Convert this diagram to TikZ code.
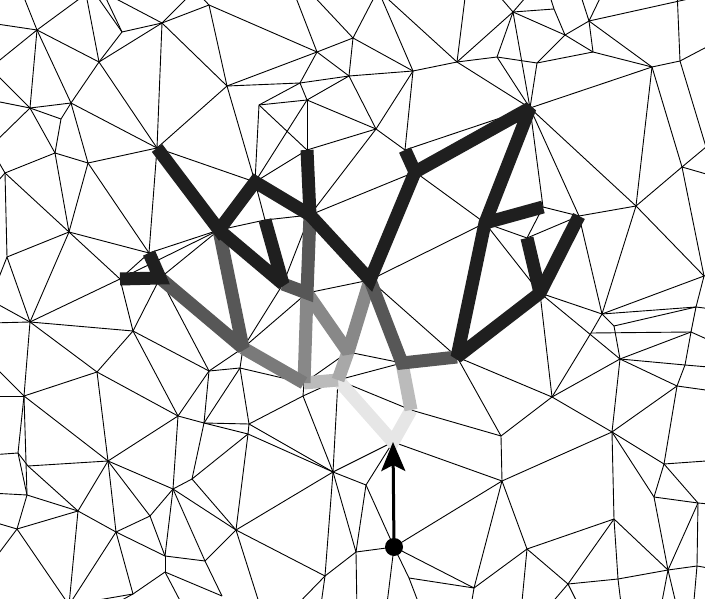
\documentclass[tikz,border=0pt]{standalone}
\usetikzlibrary{arrows.meta}
\definecolor{tk}{HTML}{1F1F1F}
\definecolor{ga}{HTML}{575757}
\definecolor{gb}{HTML}{7A7A7A}
\definecolor{gc}{HTML}{888888}
\definecolor{gd}{HTML}{A8A8A8}
\definecolor{ge}{HTML}{BBBBBB}
\definecolor{gf}{HTML}{E6E6E6}
\begin{document}
\begin{tikzpicture}[x=1pt,y=-1pt,
  mesh/.style={line width=0.9pt, black},
  tree/.style={line width=13pt, line join=miter, miter limit=2, line cap=butt}]
\useasboundingbox (0,0) rectangle (705,599);
\clip (0,0) rectangle (705,599);
\foreach \n/\px/\py in {
 a1/37/30, a2/122/32, a3/162/23, a4/99/62, a5/227/86, a6/30/108, a7/71/103, a8/61/119,
 a9/55/153, a10/88/163, a11/157/148, a12/5/173, a13/209/5,
 b1/317/52, b2/353/38, b3/349/76, b4/413/71, b5/457/62, b6/300/83, b7/307/100, b8/259/105,
 b9/376/129, b10/405/150, b11/307/150, b12/255/182, b13/415/172,
 c1/513/12, c2/554/9, c3/589/21, c4/565/35, c5/497/57, c6/537/63, c7/593/52, c8/652/67,
 c9/680/61, c10/530/108, c11/682/167, c12/706/147,
 d1/69/232, d2/7/257, d3/149/253, d4/120/279, d5/160/278, d6/219/230, d7/30/322,
 d8/133/331, d9/97/372, d10/209/371, d11/24/396,
 e1/310/215, e2/370/280, e3/283/284, e4/265/220, e5/307/293, e6/243/348, e7/304/383,
 e8/348/352, e9/338/380, e10/402/363, e11/411/410, e12/240/368, e13/303/396,
 k1/485/223, k2/543/207, k3/527/238, k4/579/216, j1/457/357,
 f1/636/206, f2/540/293, f3/602/314, f4/614/326, f5/591/333, f6/620/359, f7/704/276,
 f8/696/307, f9/691/332, f10/685/365, f11/677/386, f12/552/397,
 g2/18/453, g3/28/466, g4/27/495, g5/17/529, g6/108/461, g7/78/511, g8/116/532,
 g9/150/516, g10/173/489, g11/178/416, g12/204/423, g13/192/479, g14/236/530,
 g15/165/556, g16/165/572, g17/205/561, g18/133/594, g19/222/596, g20/69/605,
 h1/249/424, h2/248/434, h3/333/472, h4/366/485, h5/356/552, h6/325/576, h8/409/578,
 R/393/442, D/394/547,
 i1/501/436, i2/502/481, i4/612/432, i5/664/464, i6/654/497, i7/698/503, i8/614/519,
 i9/527/549, i10/668/570, i11/697/566, i12/568/584, i14/618/579, i15/474/588,
 tA/21/-10, tB/86/-6, tD/94/-8, tE/103/-8, tG/195/-10, tH/293/-10, tI/308/-10,
 tJ/378/-10, tM/466/-10, tN/494/-10, tO/532/-10, tP/548/-10, tQ/579/-10, tR/604/-10,
 tS/720/-8, tT/677/-10,
 lA/-10/23, lB/-10/68, lD/-10/100, lE/-10/147, lF/-10/190, lG/-10/300, lH/-10/323,
 lI/-10/362, lJ/-10/396, lK/-10/455, lM/-10/493, lN/-10/521, lP/-10/565,
 rA/720/40, rF/720/178, rG/720/270, rH/720/310, rI/720/345, rJ/720/368, rK/720/392,
 rB/720/460, rC/720/505, rD/720/570,
 bA/320/612, bB/357/612, bC/386/612, bD/422/612, bE/521/612, bF/544/612, bG/582/612,
 bH/622/612, bI/660/612, bJ/678/612, bK/693/612, bL/100/612, bM/186/612, bN/262/612,
 bO/470/612, bP/290/612}
 \coordinate (\n) at (\px,\py);
\foreach \u/\v in {
 a1/tA, a1/tB, a1/lA, a1/lB, a1/a4, a1/a6, a1/a7,
 a4/tB, a4/a2, a4/a3, a4/a7, a4/a11,
 a2/tD, a2/tE, a2/a3,
 a3/tE, a3/tG, a3/a13, a3/a11, a3/a5,
 a13/tG, a13/a5, a13/b1,
 a5/a11, a5/b12, a5/b1, a5/b6,
 a6/lB, a6/lD, a6/lE, a6/a7, a6/a8, a6/a9,
 a7/a8, a7/a10, a7/a11, a8/a9,
 a9/a10, a9/a12, a9/d1,
 a10/a11, a10/d1, a10/d3,
 a11/d3, a11/b12,
 a12/d1, a12/d2, a12/lE, a12/lF,
 b1/tH, b1/b2, b1/b3, b1/b6,
 b2/tI, b2/tJ, b2/b3, b2/b4,
 b3/b6, b3/b4, b3/b7, b3/b9,
 b4/tJ, b4/b5, b4/b9, b4/b10,
 b5/tJ, b5/tM, b5/c1, b5/c5, b5/c10,
 b6/b7, b6/b8, b7/b8, b7/b9, b7/b11, b7/b12,
 b8/b11, b8/b12, b9/b11, b9/b10, b9/e1,
 b10/c10, b11/b12, b12/e4, b13/e1, b13/k1,
 c1/tN, c1/tO, c1/c2, c1/c4, c1/c5, c1/c10,
 c2/tP, c2/c4,
 c3/tQ, c3/tR, c3/tS, c3/c4, c3/c7, c3/c8,
 c4/c6, c4/c7, c5/c6, c5/c10, c6/c7, c6/c10, c7/c8,
 c8/c9, c8/c10, c8/f1, c8/c11,
 c9/tT, c9/rA, c9/c12,
 c10/f1, c10/k2, c10/k4,
 c11/c12, c11/f1, c11/f7, c11/rF,
 d1/d2, d1/d3, d1/d4, d1/d7,
 d2/d7, d2/lG,
 d3/d6, d3/d4, d4/d6, d4/d7, d4/d8,
 d5/d8, d5/d10, d5/d6, d6/e4,
 d7/d8, d7/d9, d7/d11, d7/lG, d7/lH,
 d8/d9, d8/d10, d8/g11,
 d9/g6, d9/d11, d9/g11,
 d10/e6, d10/e12, d10/g11, d10/g12,
 d11/g6, d11/g2, d11/g4, d11/lI, d11/lJ,
 e1/e4, e1/e3, e3/e6, e5/e2, e5/e6, e6/e12,
 e7/e12, e7/e13, e7/e8, e8/e10,
 e9/h3, e9/e11, e9/e10, e9/e13,
 e13/h1, e13/h3, e2/k1, e2/j1, e11/i1,
 j1/f12, j1/i1, k1/f2, k1/k3, k2/k4, k2/k3, k3/k4,
 k4/f1, k4/f3, f1/f7, f1/f3,
 f2/f3, f2/f6, f2/f12,
 f3/f4, f3/f5, f3/f7, f3/f8,
 f4/f6, f4/f8, f5/f12, f5/f9,
 f6/f9, f6/f10, f6/f11, f6/i4, f6/f12,
 f7/f8, f7/rG, f8/f9, f8/rH, f9/f10, f9/rI, f10/f11, f10/rJ,
 f11/i4, f11/i5, f11/rK, f12/i1, f12/i4,
 g2/g3, g2/g4, g2/lK, g3/g6, g3/g7,
 g4/g7, g4/g5, g4/lM, g5/g7, g5/g20, g5/lN, g5/lP,
 g6/g7, g6/g8, g6/g9, g6/g10, g6/g11,
 g7/g8, g7/g20, g8/g9, g8/g15, g8/g18, g8/g20,
 g9/g10, g9/g15,
 g10/g11, g10/g13, g10/g14, g10/g15, g10/g17,
 g11/g12, g12/h1, g12/h2, g12/g13, g12/e12,
 g13/g14, g13/h2,
 g14/h2, g14/h3, g14/h6, g14/g17, g14/bN,
 g15/g16, g15/g17, g16/g18, g16/g19, g16/bM, g17/g19,
 g18/bL, g18/g20,
 h1/h2, h1/h3, h1/e12, h2/h3,
 h3/R, h3/h4, h3/h5, h3/h6,
 h4/R, h4/h5, h4/D,
 h5/D, h5/h6, h5/bB, h6/bA, h6/bP,
 D/h8, D/bC, D/i2, D/i15,
 h8/i15, h8/bD, R/i2, i1/i2,
 i2/i4, i2/i9, i2/i15,
 i4/i5, i4/i6, i4/i8,
 i5/i6, i5/i7, i5/rB, i6/i7, i6/i10,
 i7/i10, i7/i11, i7/rC,
 i8/i9, i8/i12, i8/i10, i8/i14,
 i9/i12, i9/i15, i9/bE,
 i10/i14, i10/i11, i10/bI, i10/bJ,
 i11/rD, i11/bK,
 i12/i14, i12/bF, i12/bG, i14/bH, i15/bO}
 \draw[mesh] (\u) -- (\v);
% thick path tree, lightest first
\draw[tree, gf] (e9) -- (R) -- (e11);
\draw[tree, ge] (e11) -- (e10);
\draw[tree, ge] (e9) -- (e7);
\draw[tree, gd] (e9) -- (e8);
\draw[tree, gc] (e7) -- (e5);
\draw[tree, gc] (e5) -- (e8) -- (e2);
\draw[tree, gb] (e6) -- (e7);
\draw[tree, ga] (d5) -- (e6) -- (d6);
\draw[tree, ga] (e1) -- (e5) -- (e3);
\draw[tree, ga] (e2) -- (e10) -- (j1);
\draw[tree, tk] (d4) -- (d5) -- (d3);
\draw[tree, tk] (a11) -- (d6) -- (b12) -- (e1) -- (e2) -- (b13) -- (c10) -- (k1) -- (j1) -- (f2) -- (k4);
\draw[tree, tk] (b11) -- (e1);
\draw[tree, tk] (d6) -- (e3) -- (e4);
\draw[tree, tk] (b13) -- (b10);
\draw[tree, tk] (k1) -- (k2);
\draw[tree, tk] (f2) -- (k3);
% arrow
\draw[line width=3pt, -{Stealth[length=29pt, width=24pt, inset=6pt]}] (D) -- (R);
\fill (D) circle[radius=9pt];
\end{tikzpicture}
\end{document}
